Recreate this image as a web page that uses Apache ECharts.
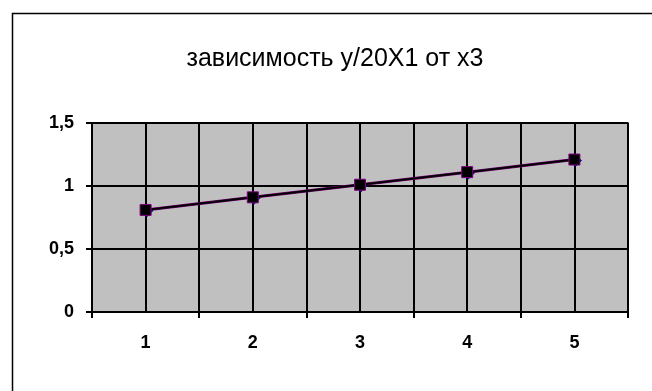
<!DOCTYPE html>
<html>
<head>
<meta charset="utf-8">
<script src="https://cdn.jsdelivr.net/npm/echarts@6/dist/echarts.min.js"></script>
<style>
html,body{margin:0;padding:0;background:#fff;}
#c{width:652px;height:391px;}
</style>
</head>
<body>
<div id="c"></div>
<script>
var titleText = 'зависимость y/20X1 от x3';
var categories = [1, 2, 3, 4, 5];
var seriesDiamond = [0.81, 0.91, 1.01, 1.11, 1.21];
var seriesSquare = [0.81, 0.91, 1.01, 1.11, 1.21];
var yTicks = [0, 0.5, 1, 1.5];

function pairs(vals) {
  return categories.map(function (c, i) { return [c, vals[i]]; });
}

var chart = echarts.init(document.getElementById('c'), null, {renderer: 'canvas'});
var font = 'Arial, "Liberation Sans", sans-serif';
chart.setOption({
  animation: false,
  backgroundColor: '#ffffff',
  graphic: [{
    type: 'rect', left: 10, top: 11, z: -10,
    shape: {width: 700, height: 500},
    style: {fill: 'none', stroke: '#000', lineWidth: 1.5}
  }],
  title: {
    text: titleText,
    left: 330, top: 42, textAlign: 'center',
    textStyle: {fontFamily: font, fontSize: 25, fontWeight: 'normal', color: '#000'}
  },
  grid: {
    left: 92, top: 123, right: 24, bottom: 79,
    show: true, backgroundColor: '#C0C0C0', borderColor: '#808080', borderWidth: 2
  },
  xAxis: [{
    type: 'value', min: 0.5, max: 5.5, interval: 0.5,
    axisLine: {show: true, onZero: false, lineStyle: {color: '#000', width: 2}},
    axisTick: {show: false},
    splitLine: {show: true, lineStyle: {color: '#000', width: 2}},
    axisLabel: {
      margin: 22, color: '#000', fontFamily: font, fontSize: 18, fontWeight: 'bold',
      formatter: function (v) { return categories.indexOf(v) >= 0 ? String(v) : ''; }
    }
  }, {
    type: 'value', min: 0.5, max: 5.5, interval: 1, position: 'bottom',
    axisLine: {show: false},
    axisTick: {show: true, inside: false, length: 6, lineStyle: {color: '#000', width: 2}},
    splitLine: {show: false},
    axisLabel: {show: false}
  }],
  yAxis: {
    type: 'value', min: yTicks[0], max: yTicks[yTicks.length - 1], interval: 0.5,
    axisLine: {show: true, lineStyle: {color: '#000', width: 2}},
    axisTick: {show: true, length: 6, lineStyle: {color: '#000', width: 2}},
    splitLine: {show: true, lineStyle: {color: '#000', width: 2}},
    axisLabel: {
      margin: 18, color: '#000', fontFamily: font, fontSize: 18, fontWeight: 'bold',
      formatter: function (v) { return String(v).replace('.', ','); }
    }
  },
  series: [{
    type: 'line', xAxisIndex: 0, data: pairs(seriesDiamond),
    symbol: 'diamond', symbolSize: 12, symbolOffset: [1, 1],
    itemStyle: {color: '#000080', borderColor: '#000080'},
    lineStyle: {color: '#800080', width: 3}, z: 3
  }, {
    type: 'line', xAxisIndex: 0, data: pairs(seriesSquare),
    symbol: 'rect', symbolSize: 11,
    itemStyle: {color: '#000', borderColor: '#800080', borderWidth: 1},
    lineStyle: {color: '#000', width: 2}, z: 4
  }]
});
</script>
</body>
</html>
